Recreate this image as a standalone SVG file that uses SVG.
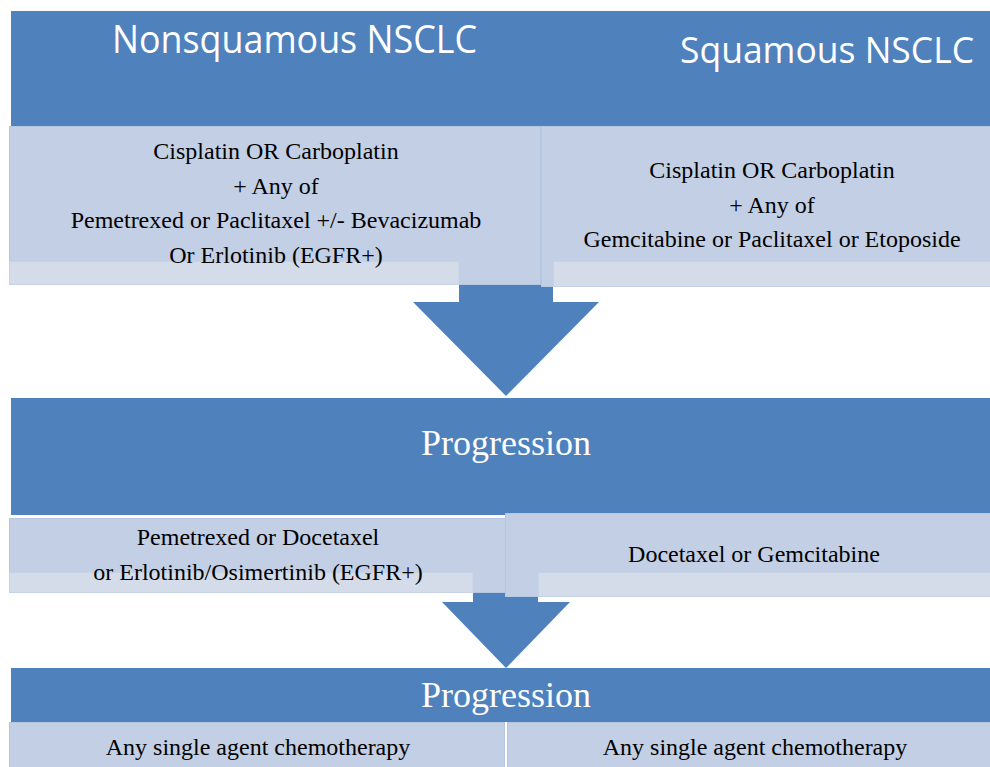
<svg xmlns="http://www.w3.org/2000/svg" width="990" height="767" viewBox="0 0 990 767">
<style>
.hdr{fill:#4F81BD}
.pnl{fill:#C3CFE5;stroke:#B5C6E0;stroke-width:1}
.strip{fill:#D5DCE9;stroke:#C6D2E5;stroke-width:1}
.arrow{fill:#4F81BD}
.ttl{font-family:"Open Sans","Liberation Sans",sans-serif;font-size:38px;fill:#FFFFFF}
.prog{font-family:"Liberation Serif","Times New Roman",serif;font-size:36px;fill:#FFFFFF;text-anchor:middle}
.body{font-family:"Liberation Serif","Times New Roman",serif;font-size:24px;fill:#000000;text-anchor:middle}
</style>
<rect width="990" height="767" fill="#FFFFFF"/>
<g id="connectors">
<polygon class="arrow" points="459,284 553,284 553,302 599,302 506,396 413,302 459,302"/>
<polygon class="arrow" points="473,592 538,592 538,602 570,602 506,668 442,602 473,602"/>
</g>
<g id="header1">
<rect class="hdr" x="11" y="11" width="979" height="115"/>
<text class="ttl" x="112" y="53" textLength="365" lengthAdjust="spacingAndGlyphs">Nonsquamous NSCLC</text>
<text class="ttl" x="680" y="63" font-size="36" textLength="294" lengthAdjust="spacingAndGlyphs" style="font-size:36px">Squamous NSCLC</text>
</g>
<g id="first-nonsquamous">
<rect class="pnl" x="9.5" y="126.5" width="531" height="158"/>
<rect class="strip" x="9.5" y="261.5" width="449.5" height="23"/>
<text class="body" x="276" y="159">Cisplatin OR Carboplatin</text>
<text class="body" x="276" y="194">+ Any of</text>
<text class="body" x="276" y="228">Pemetrexed or Paclitaxel +/- Bevacizumab</text>
<text class="body" x="276" y="263">Or Erlotinib (EGFR+)</text>
</g>
<g id="first-squamous">
<rect class="pnl" x="541.5" y="126.5" width="449" height="160"/>
<rect class="strip" x="553.5" y="261.5" width="437" height="25"/>
<text class="body" x="772" y="178">Cisplatin OR Carboplatin</text>
<text class="body" x="772" y="213">+ Any of</text>
<text class="body" x="772" y="247">Gemcitabine or Paclitaxel or Etoposide</text>
</g>
<g id="progression1">
<rect class="hdr" x="11" y="398" width="979" height="117"/>
<text class="prog" x="506" y="455">Progression</text>
</g>
<g id="second-nonsquamous">
<rect class="pnl" x="9.5" y="518.5" width="496" height="74"/>
<rect class="strip" x="9.5" y="572.5" width="463.5" height="20"/>
<text class="body" x="258" y="545">Pemetrexed or Docetaxel</text>
<text class="body" x="258" y="580">or Erlotinib/Osimertinib (EGFR+)</text>
</g>
<g id="second-squamous">
<rect class="pnl" x="505.5" y="513.5" width="485" height="83"/>
<rect class="strip" x="538.5" y="572.5" width="452" height="24"/>
<text class="body" x="754" y="562">Docetaxel or Gemcitabine</text>
</g>
<g id="progression2">
<rect class="hdr" x="11" y="668" width="979" height="54"/>
<text class="prog" x="506" y="707">Progression</text>
</g>
<g id="third-nonsquamous">
<rect class="pnl" x="9.5" y="722.5" width="495" height="50"/>
<text class="body" x="258" y="755">Any single agent chemotherapy</text>
</g>
<g id="third-squamous">
<rect class="pnl" x="507.5" y="722.5" width="483" height="50"/>
<text class="body" x="755" y="755">Any single agent chemotherapy</text>
</g>
</svg>
